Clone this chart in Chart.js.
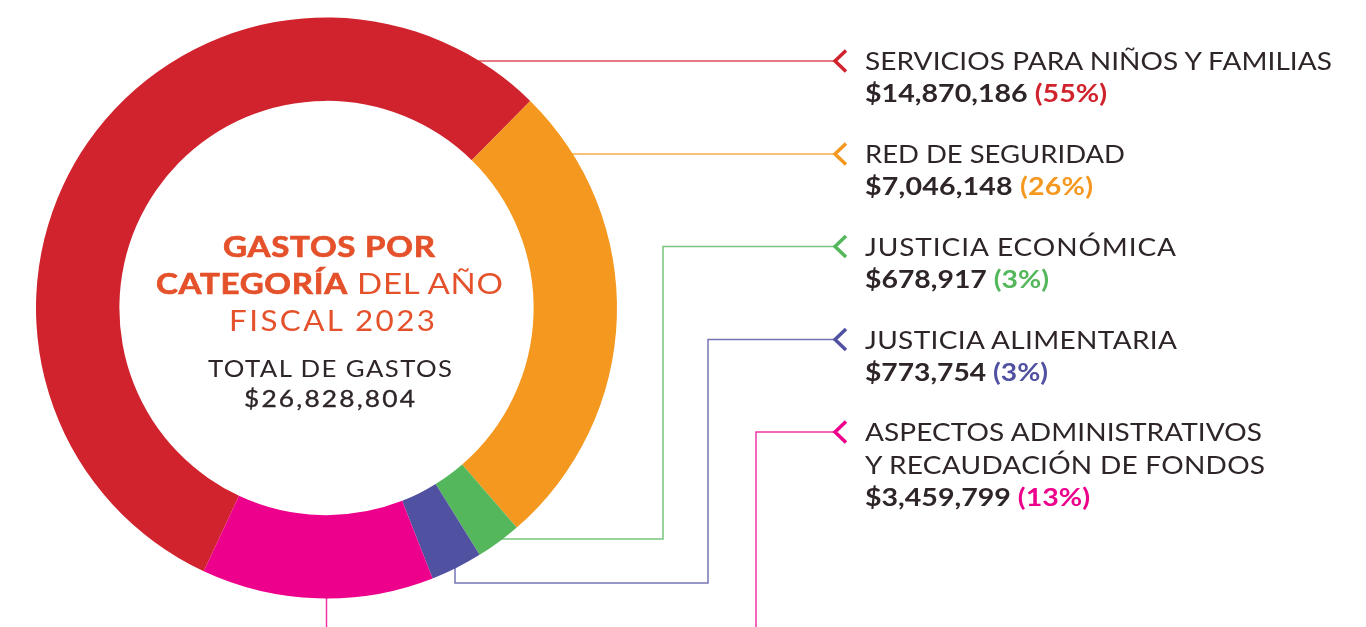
<!DOCTYPE html>
<html>
<head>
<meta charset="utf-8">
<script src="https://cdn.jsdelivr.net/npm/chart.js@4.4.1/dist/chart.umd.min.js"></script>
<style>
html, body { margin: 0; padding: 0; background: #fff; overflow: hidden; }
#wrap { position: relative; width: 1366px; height: 627px; }
#chart { position: absolute; left: 0; top: 0; }
.t { position: absolute; white-space: nowrap; font-family: Lato, sans-serif; color: #2e2527; transform-origin: 0 50%; }
</style>
</head>
<body>
<div id="wrap">
    <canvas id="chart" width="1366" height="627"></canvas>
</div>
<script>
// data
const categories = [
    "SERVICIOS PARA NIÑOS Y FAMILIAS",
    "RED DE SEGURIDAD",
    "JUSTICIA ECONÓMICA",
    "JUSTICIA ALIMENTARIA",
    "ASPECTOS ADMINISTRATIVOS\nY RECAUDACIÓN DE FONDOS"
];
const amounts = [14870186, 7046148, 678917, 773754, 3459799];
const pctLabels = ["55%", "26%", "3%", "3%", "13%"];
const colors = ["#d1232d", "#f5981f", "#55b75b", "#5151a1", "#ec008c"];

const titleBold1 = "GASTOS POR";
const titleBold2 = "CATEGORÍA";
const titleRest2 = " DEL AÑO";
const titleLine3 = "FISCAL 2023";
const totalLabel = "TOTAL DE GASTOS";
const totalValue = "$26,828,804";

const ORANGE = "#e4512b";
const DARK = "#2e2527";

// layout of the label column
const rowMid = [61, 154, 246.5, 339.5, 432];
const tipX = 835;
const labelX = 865;

const wrap = document.getElementById("wrap");
const measureCtx = document.createElement("canvas").getContext("2d");

// places one line of text by its baseline and stretches it to the width seen in the picture
function addText(parts, x, baseline, size, target, maxScale) {
    const div = document.createElement("div");
    div.className = "t";
    div.style.fontSize = size + "px";
    div.style.lineHeight = size + "px";
    let n = 0;
    parts.forEach(p => {
        const s = document.createElement("span");
        s.textContent = p.text;
        s.style.color = p.color;
        s.style.fontWeight = p.weight;
        if (p.stroke) s.style.webkitTextStroke = p.stroke + "px " + p.color;
        div.appendChild(s);
        n += p.text.length;
    });
    wrap.appendChild(div);

    measureCtx.font = `${parts[0].weight} ${size}px Lato`;
    const m = measureCtx.measureText("H");
    const asc = m.fontBoundingBoxAscent, desc = m.fontBoundingBoxDescent;
    div.style.top = (baseline - ((size - (asc + desc)) / 2 + asc)) + "px";
    div.style.left = x + "px";

    const w = div.getBoundingClientRect().width;
    const scale = Math.max(1, Math.min(target / w, maxScale || 1.12));
    const ls = (target / scale - w) / (n - 1);
    div.style.letterSpacing = ls + "px";
    div.style.transform = `scaleX(${scale})`;
}

// centre text
addText([{ text: titleBold1, color: ORANGE, weight: 700, stroke: 0.7 }], 223, 256.5, 28, 212, 1.18);
addText([{ text: titleBold2, color: ORANGE, weight: 700, stroke: 0.7 }, { text: titleRest2, color: ORANGE, weight: 400 }], 156, 294, 28, 347, 1.18);
addText([{ text: titleLine3, color: ORANGE, weight: 400 }], 229, 331, 28, 206);
addText([{ text: totalLabel, color: DARK, weight: 400 }], 208, 377, 23, 244);
addText([{ text: totalValue, color: DARK, weight: 400, stroke: 0.35 }], 244, 408, 23.5, 171);

// label column
const titleWidths = [[467], [260], [311], [312], [397, 400]];
const valueWidths = [242, 228, 184, 183, 225];

categories.forEach((cat, i) => {
    const lines = cat.split("\n");
    let base = rowMid[i] + 9.5;
    lines.forEach((ln, j) => {
        addText([{ text: ln, color: DARK, weight: 400 }], labelX, base, 25, titleWidths[i][j]);
        base += 32.5;
    });
    addText([
        { text: "$" + amounts[i].toLocaleString("en-US") + " ", color: DARK, weight: 700 },
        { text: "(" + pctLabels[i] + ")", color: colors[i], weight: 700 }
    ], labelX, base, 25.5, valueWidths[i]);
});

const leaderPlugin = {
    id: "leaders",
    afterDatasetsDraw(chart) {
        const arc = chart.getDatasetMeta(0).data[0];
        const cx = arc.x, cy = arc.y, R = arc.outerRadius;
        const ctx = chart.ctx;
        const edgeX = y => cx + Math.sqrt(R * R - (y - cy) * (y - cy));
        const edgeY = x => cy + Math.sqrt(R * R - (x - cx) * (x - cx));

        const paths = [
            [0, [[edgeX(rowMid[0]) - 1, rowMid[0]], [tipX, rowMid[0]]]],
            [1, [[edgeX(rowMid[1]) - 1, rowMid[1]], [tipX, rowMid[1]]]],
            [2, [[cx + 160, 539], [663, 539], [663, rowMid[2]], [tipX, rowMid[2]]]],
            [3, [[455, edgeY(455) - 1], [455, 583], [708, 583], [708, rowMid[3]], [tipX, rowMid[3]]]],
            [4, [[cx, cy + R - 1], [cx, 640]]],
            [4, [[756, 640], [756, rowMid[4]], [tipX, rowMid[4]]]]
        ];

        ctx.save();
        ctx.lineWidth = 1.5;
        paths.forEach(([i, pts]) => {
            ctx.strokeStyle = colors[i];
            ctx.globalAlpha = 0.8;
            ctx.beginPath();
            pts.forEach((p, k) => k ? ctx.lineTo(p[0], p[1]) : ctx.moveTo(p[0], p[1]));
            ctx.stroke();
        });

        // chevrons
        ctx.globalAlpha = 1;
        ctx.lineWidth = 3.5;
        ctx.lineJoin = "miter";
        rowMid.forEach((y, i) => {
            ctx.strokeStyle = colors[i];
            ctx.beginPath();
            ctx.moveTo(tipX + 11, y - 10.5);
            ctx.lineTo(tipX, y);
            ctx.lineTo(tipX + 11, y + 10.5);
            ctx.stroke();
        });
        ctx.restore();
    }
};

new Chart(document.getElementById("chart"), {
    type: "doughnut",
    data: {
        labels: categories,
        datasets: [{
            data: amounts,
            backgroundColor: colors,
            borderWidth: 0,
            hoverOffset: 0
        }]
    },
    options: {
        responsive: false,
        animation: false,
        events: [],
        rotation: 205,
        cutout: "71.3%",
        layout: { padding: { left: 36, top: 17, right: 749, bottom: 28 } },
        plugins: {
            legend: { display: false },
            tooltip: { enabled: false }
        }
    },
    plugins: [leaderPlugin]
});
</script>
</body>
</html>
